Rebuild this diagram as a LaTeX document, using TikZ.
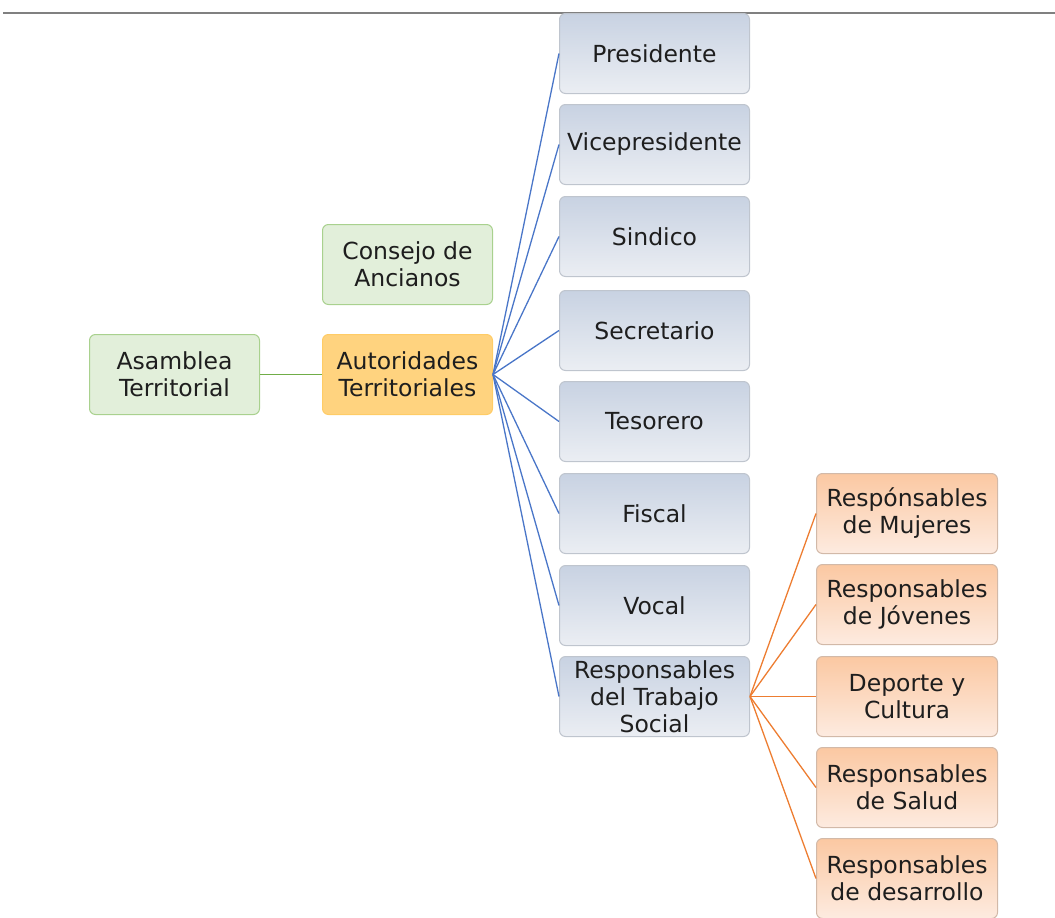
\documentclass[tikz,border=0pt]{standalone}
\usepackage{fontspec}
\setmainfont{DejaVu Sans}
\definecolor{bluetop}{HTML}{C8D2E2}
\definecolor{bluebot}{HTML}{EBEEF3}
\definecolor{blueborder}{HTML}{BFC5CE}
\definecolor{greenfill}{HTML}{E2EFDA}
\definecolor{greenborder}{HTML}{A9D18E}
\definecolor{goldfill}{HTML}{FFD37F}
\definecolor{goldborder}{HTML}{FFCC66}
\definecolor{peachtop}{HTML}{FBC8A2}
\definecolor{peachbot}{HTML}{FDEBE0}
\definecolor{peachborder}{HTML}{D2B9A8}
\definecolor{bluelinec}{HTML}{4A76C8}
\definecolor{orangelinec}{HTML}{ED7D31}
\definecolor{greenlinec}{HTML}{70AD47}
\definecolor{txt}{HTML}{1E1E1E}
\begin{document}
\begin{tikzpicture}[x=1pt,y=-1pt,
  base/.style={rounded corners=6pt, line width=1pt, align=center, inner sep=0pt,
    text=txt, font=\fontsize{23.5}{27}\selectfont, anchor=north west},
  bluebox/.style={base, draw=blueborder, top color=bluetop, bottom color=bluebot,
    minimum width=190pt, minimum height=80pt},
  greenbox/.style={base, draw=greenborder, fill=greenfill,
    minimum width=170pt, minimum height=80pt},
  goldbox/.style={base, draw=goldborder, fill=goldfill,
    minimum width=170pt, minimum height=80pt},
  peachbox/.style={base, draw=peachborder, top color=peachtop, bottom color=peachbot,
    minimum width=181pt, minimum height=80pt},
  blueline/.style={draw=bluelinec, line width=1.3pt},
  orangeline/.style={draw=orangelinec, line width=1.3pt},
  greenline/.style={draw=greenlinec, line width=1.3pt}
]
\useasboundingbox (0,0) rectangle (1055,918);
\draw[gray, line width=2pt] (3,13) -- (1055,13);

\node[greenbox] (asam) at (89,334) {Asamblea\\Territorial};
\node[greenbox] (cons) at (322,224) {Consejo de\\Ancianos};
\node[goldbox] (auto) at (322,334) {Autoridades\\Territoriales};

\node[bluebox] (pres) at (559,13) {Presidente};
\node[bluebox] (vice) at (559,104) {Vicepresidente};
\node[bluebox] (sind) at (559,196) {Sindico};
\node[bluebox] (secr) at (559,290) {Secretario};
\node[bluebox] (teso) at (559,381) {Tesorero};
\node[bluebox] (fisc) at (559,473) {Fiscal};
\node[bluebox] (voca) at (559,565) {Vocal};
\node[bluebox] (trab) at (559,656) {Responsables\\del Trabajo\\Social};

\node[peachbox] (muje) at (816,473) {Respónsables\\de Mujeres};
\node[peachbox] (jove) at (816,564) {Responsables\\de Jóvenes};
\node[peachbox] (depo) at (816,656) {Deporte y\\Cultura};
\node[peachbox] (salu) at (816,747) {Responsables\\de Salud};
\node[peachbox] (desa) at (816,838) {Responsables\\de desarrollo};

\draw[greenline] (asam.east) -- (auto.west);
\foreach \n in {pres,vice,sind,secr,teso,fisc,voca,trab}
  \draw[blueline] (auto.east) -- (\n.west);
\foreach \n in {muje,jove,depo,salu,desa}
  \draw[orangeline] (trab.east) -- (\n.west);
\end{tikzpicture}
\end{document}
